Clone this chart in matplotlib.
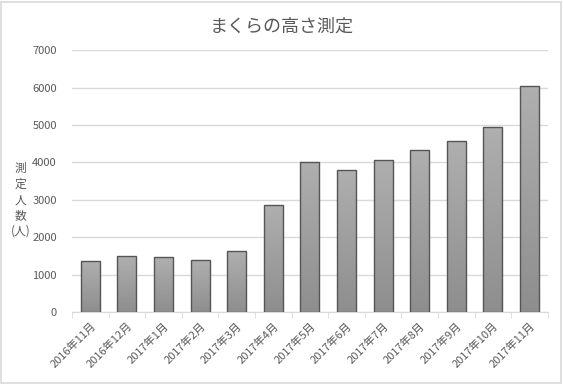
import numpy as np
import matplotlib.pyplot as plt
from matplotlib.patches import Rectangle
from matplotlib.colors import LinearSegmentedColormap

plt.rcParams['font.family'] = ['Noto Sans CJK JP', 'DejaVu Sans']

months = ["2016年11月", "2016年12月", "2017年1月", "2017年2月", "2017年3月",
          "2017年4月", "2017年5月", "2017年6月", "2017年7月", "2017年8月",
          "2017年9月", "2017年10月", "2017年11月"]
counts = [1355, 1490, 1460, 1380, 1630, 2860, 4010, 3800, 4070, 4335, 4580, 4950, 6030]
yticks = [0, 1000, 2000, 3000, 4000, 5000, 6000, 7000]

text_col = "#595959"
grid_col = "#d9d9d9"

fig = plt.figure(figsize=(5.63, 3.84), dpi=100)
fig.patches.append(Rectangle((0.002, 0.003), 0.995, 0.993, transform=fig.transFigure,
                             fill=False, edgecolor="#d9d9d9", linewidth=1.2))
ax = fig.add_axes([0.128, 0.1875, 0.845, 0.682])

x = np.arange(len(months))
width = 0.52
bars = ax.bar(x, counts, width, color="none", edgecolor="#555555", linewidth=1.0, zorder=3)

# vertical gradient fill, light at the top, darker at the bottom
bar_cmap = LinearSegmentedColormap.from_list("bargrad", ["#afafaf", "#8e8e8e"])
grad = np.linspace(0, 1, 256).reshape(-1, 1)
for b in bars:
    bx, bw, bh = b.get_x(), b.get_width(), b.get_height()
    im = ax.imshow(grad, cmap=bar_cmap, aspect="auto",
                   extent=(bx, bx + bw, 0, bh), origin="upper", zorder=2)
    im.set_clip_path(b)

ax.set_xlim(-0.5, len(months) - 0.5)
ax.set_ylim(0, 7000)
ax.set_yticks(yticks)
ax.yaxis.grid(True, color=grid_col, linewidth=1.0, zorder=0)
ax.set_axisbelow(True)

for s in ["top", "right", "left"]:
    ax.spines[s].set_visible(False)
ax.spines["bottom"].set_color(grid_col)

ax.set_xticks(x)
ax.set_xticklabels(months, rotation=45, ha="right", rotation_mode="anchor")
ax.set_xticks(np.arange(-0.5, len(months)), minor=True)
ax.tick_params(axis="x", which="major", length=0, pad=6, labelsize=8, labelcolor=text_col)
ax.tick_params(axis="x", which="minor", length=4, color=grid_col)
ax.tick_params(axis="y", length=0, pad=11, labelsize=8, labelcolor=text_col)

fig.text(0.5, 0.93, "まくらの高さ測定", ha="center", va="center", fontsize=13, color=text_col)
fig.text(0.036, 0.48, "測\n定\n人\n数\n(人)", ha="center", va="center", fontsize=8.5,
         color=text_col, linespacing=1.25)

fig.savefig("out.png", dpi=100)
